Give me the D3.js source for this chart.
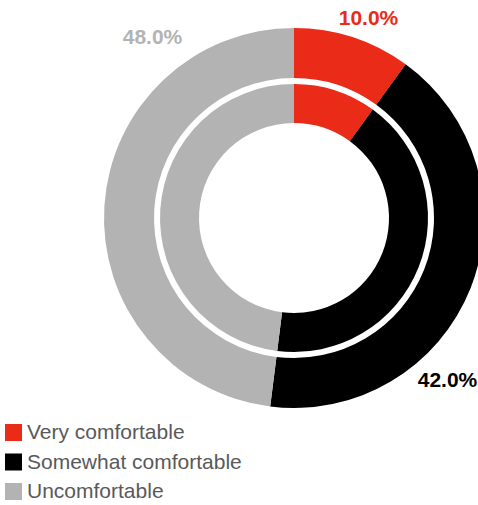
<!DOCTYPE html>
<html>
<head>
<meta charset="utf-8">
<script src="https://cdn.jsdelivr.net/npm/d3@7"></script>
<style>
  html, body { margin: 0; padding: 0; background: #fff; }
  svg { display: block; font-family: "Liberation Sans", Arial, Helvetica, sans-serif; }
</style>
</head>
<body>
<svg id="chart" width="478" height="505"></svg>
<script>
// Comfort levels and their shares (percent)
const categories = ["Very comfortable", "Somewhat comfortable", "Uncomfortable"];
const outerValues = [10, 42, 48];
const innerValues = [10, 42, 48];
const colors = ["#E92B18", "#000000", "#B3B3B3"];

// Layout
const W = 478, H = 505;
const cx = 294, cy = 218;
const outerRing = { inner: 140, outer: 190 };
const innerRing = { inner: 95, outer: 134 };
// value label anchors, relative to the donut centre (text baseline)
const labelOffsets = [[74.5, -193], [153.5, 169], [-141.5, -174]];

const svg = d3.select("#chart");
const g = svg.append("g").attr("transform", `translate(${cx},${cy})`);

const pie = d3.pie().sort(null).value(d => d);

function ring(values, radii, cls) {
  const arc = d3.arc().innerRadius(radii.inner).outerRadius(radii.outer);
  g.selectAll("path." + cls)
    .data(pie(values))
    .join("path")
    .attr("class", cls)
    .attr("d", arc)
    .attr("fill", (d, i) => colors[i]);
}
ring(outerValues, outerRing, "outer");
ring(innerValues, innerRing, "inner");

// Percentage labels
g.selectAll("text.val")
  .data(outerValues)
  .join("text")
  .attr("class", "val")
  .attr("x", (d, i) => labelOffsets[i][0])
  .attr("y", (d, i) => labelOffsets[i][1])
  .attr("text-anchor", "middle")
  .attr("font-size", 21)
  .attr("font-weight", "bold")
  .attr("fill", (d, i) => colors[i])
  .text(d => d3.format(".1f")(d) + "%");

// Legend
const legend = svg.append("g").attr("transform", "translate(5,424)");
const rowH = 29.5;
const rows = legend.selectAll("g")
  .data(categories)
  .join("g")
  .attr("transform", (d, i) => `translate(0,${i * rowH})`);
rows.append("rect")
  .attr("width", 17).attr("height", 17)
  .attr("fill", (d, i) => colors[i]);
rows.append("text")
  .attr("x", 22).attr("y", 15)
  .attr("font-size", 21)
  .attr("fill", "#595959")
  .text(d => d);
</script>
</body>
</html>
